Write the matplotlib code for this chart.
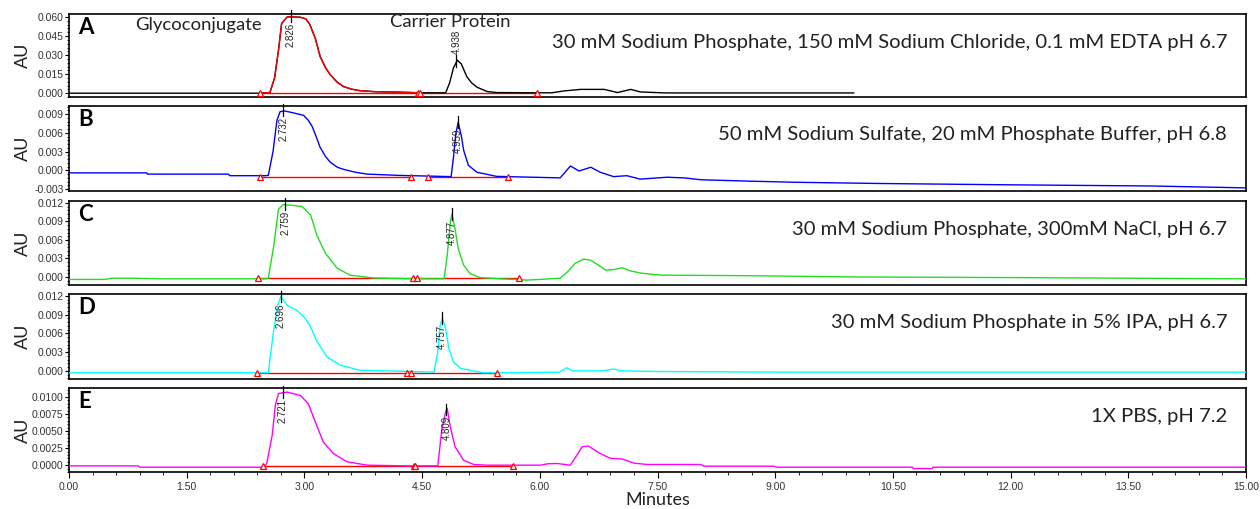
"""
Stacked SEC chromatograms (panels A-E) for different mobile phases.
"""

import matplotlib
matplotlib.use("Agg")
import matplotlib.pyplot as plt
import numpy as np
from matplotlib.ticker import AutoMinorLocator, FormatStrFormatter

# ---- data ----
letters = ["A", "B", "C", "D", "E"]
conditions = [
    "30 mM Sodium Phosphate, 150 mM Sodium Chloride, 0.1 mM EDTA pH 6.7",
    "50 mM Sodium Sulfate, 20 mM Phosphate Buffer, pH 6.8",
    "30 mM Sodium Phosphate, 300mM NaCl, pH 6.7",
    "30 mM Sodium Phosphate in 5% IPA, pH 6.7",
    "1X PBS, pH 7.2",
]
trace_colors = ["black", "blue", "#22dd22", "cyan", "magenta"]

time_a = [0, 2.44, 2.56, 2.62, 2.67, 2.71, 2.78, 2.83, 2.95, 3.02, 3.07, 3.14, 3.20, 3.27,
          3.33, 3.42, 3.50, 3.60, 3.71, 3.90, 4.22, 4.47, 4.80, 4.85, 4.90, 4.95, 5.00, 5.07,
          5.13, 5.20, 5.33, 5.45, 6.0, 6.15, 6.31, 6.52, 6.82, 6.99, 7.16, 7.28, 7.6, 10.0]
au_a = [0.0, 0.0, 0.0005, 0.012, 0.034, 0.055, 0.060, 0.0602, 0.0598, 0.0585, 0.054, 0.043,
        0.029, 0.020, 0.0145, 0.0085, 0.0052, 0.0032, 0.002, 0.0012, 0.0008, 0.0003, 0.0003,
        0.008, 0.020, 0.026, 0.023, 0.013, 0.0082, 0.0047, 0.0013, 0.0005, 0.0003, 0.0003,
        0.0018, 0.003, 0.003, 0.0005, 0.003, 0.001, 0.0002, 0.0002]

time_b = [0, 0.99, 1.0, 2.03, 2.05, 2.50, 2.54, 2.60, 2.65, 2.69, 2.75, 2.86, 2.99, 3.05, 3.10,
          3.15, 3.20, 3.27, 3.33, 3.42, 3.50, 3.65, 3.80, 4.2, 4.87, 4.90, 4.93, 4.96, 5.00,
          5.03, 5.09, 5.20, 5.45, 6.26, 6.39, 6.50, 6.65, 6.77, 6.94, 7.11, 7.28, 7.62, 7.84,
          8.05, 8.60, 9.24, 10.34, 11.9, 13.8, 15.0]
au_b = [-0.0004, -0.0004, -0.0006, -0.0006, -0.00085, -0.00085, -0.0008, 0.003, 0.0080,
        0.0094, 0.0095, 0.0092, 0.0088, 0.0080, 0.0070, 0.0054, 0.0037, 0.0022, 0.0013,
        0.0005, 0.00016, -0.0003, -0.0006, -0.0008, -0.0010, 0.0021, 0.0059, 0.0077, 0.0055,
        0.0032, 0.0008, -0.0003, -0.00096, -0.0012, 0.0007, -0.0001, 0.0005, -0.0003, -0.001,
        -0.00085, -0.0014, -0.0011, -0.0012, -0.0015, -0.0017, -0.0019, -0.0021, -0.0023,
        -0.0025, -0.0028]

time_c = [0, 0.45, 0.55, 0.8, 1.2, 2.50, 2.54, 2.61, 2.67, 2.73, 2.85, 2.97, 3.02, 3.08, 3.16,
          3.27, 3.42, 3.58, 3.88, 4.4, 4.78, 4.82, 4.86, 4.88, 4.92, 4.96, 5.03, 5.11, 5.24,
          5.50, 5.84, 6.0, 6.26, 6.35, 6.45, 6.56, 6.65, 6.75, 6.84, 6.95, 7.05, 7.15, 7.3,
          7.54, 8.7, 10.0, 12.0, 15.0]
au_c = [-0.0004, -0.0004, -0.0002, -0.0002, -0.0003, -0.0003, -0.0002, 0.0051, 0.011, 0.0117,
        0.0116, 0.0114, 0.0108, 0.0100, 0.0067, 0.0038, 0.0014, 0.0003, -0.00016, -0.0003,
        -0.0003, 0.0035, 0.0089, 0.0102, 0.0078, 0.0046, 0.0019, 0.00055, -0.0001, -0.0003,
        -0.0005, -0.0004, -0.0002, 0.0008, 0.0022, 0.0029, 0.0027, 0.0019, 0.0011, 0.0012,
        0.0015, 0.0010, 0.0006, 0.0003, 0.0002, 0.0, -0.0001, -0.0003]

time_d = [0, 2.50, 2.54, 2.60, 2.66, 2.70, 2.78, 2.90, 2.99, 3.07, 3.16, 3.29, 3.46, 3.71,
          4.22, 4.65, 4.70, 4.73, 4.76, 4.80, 4.84, 4.90, 4.99, 5.28, 5.6, 6.25, 6.34, 6.42,
          6.8, 6.94, 7.05, 7.5, 9.0, 15.0]
au_d = [-0.0003, -0.0003, -0.0003, 0.0057, 0.0105, 0.0119, 0.0105, 0.0097, 0.0087, 0.0073,
        0.0047, 0.0022, 0.0009, 0.0001, -0.00005, -0.0002, 0.003, 0.0073, 0.0084, 0.0068,
        0.0036, 0.0014, 0.0004, -0.0003, -0.0003, -0.0002, 0.0005, 0.0, 0.0, 0.0003, 0.0,
        -0.0001, -0.0002, -0.0002]

time_e = [0, 0.88, 0.9, 2.48, 2.52, 2.59, 2.63, 2.67, 2.78, 2.95, 3.05, 3.14, 3.24, 3.37,
          3.54, 3.80, 4.3, 4.70, 4.75, 4.80, 4.82, 4.86, 4.92, 5.03, 5.16, 5.33, 6.01, 6.1,
          6.22, 6.32, 6.39, 6.43, 6.54, 6.62, 6.77, 6.90, 7.05, 7.20, 7.37, 8.05, 8.09, 8.98,
          9.03, 10.75, 10.76, 11.0, 11.01, 15.0]
au_e = [-0.0001, -0.0001, -0.0003, -0.0003, 0.00025, 0.0044, 0.0088, 0.0105, 0.0107, 0.0102,
        0.0090, 0.0063, 0.0034, 0.0017, 0.0005, 0.0, -0.0001, -0.0001, 0.0051, 0.0078,
        0.0083, 0.0056, 0.0027, 0.0007, 0.0001, 0.0, 0.0, 0.0002, 0.00025, 0.0001, 0.0,
        0.0007, 0.0027, 0.0028, 0.0017, 0.0010, 0.0009, 0.0003, 0.0001, 0.0001, -0.00015,
        -0.00015, -0.0003, -0.0003, -0.0005, -0.0005, -0.0003, -0.0003]

times = [time_a, time_b, time_c, time_d, time_e]
signals = [au_a, au_b, au_c, au_d, au_e]

# retention times printed on the peaks
peak_labels = [["2.826", "4.938"], ["2.732", "4.959"], ["2.759", "4.877"],
               ["2.696", "4.757"], ["2.721", "4.809"]]

# integration baselines (start, end) and their level
baseline_segments = [
    [(2.44, 4.45), (4.47, 5.97)],
    [(2.44, 4.36), (4.58, 5.60)],
    [(2.41, 4.38), (4.43, 5.73)],
    [(2.40, 4.31), (4.36, 5.46)],
    [(2.47, 4.40), (4.41, 5.66)],
]
baseline_level = [0.0, -0.0010, -0.0001, -0.00035, -0.0001]

y_ticks = [
    [0.0, 0.015, 0.030, 0.045, 0.060],
    [-0.003, 0.0, 0.003, 0.006, 0.009],
    [0.0, 0.003, 0.006, 0.009, 0.012],
    [0.0, 0.003, 0.006, 0.009, 0.012],
    [0.0, 0.0025, 0.005, 0.0075, 0.010],
]
y_limits = [(-0.0030, 0.0624), (-0.0033, 0.0103), (-0.0013, 0.0123),
            (-0.0013, 0.0123), (-0.0010, 0.0113)]
x_ticks = [0, 1.5, 3.0, 4.5, 6.0, 7.5, 9.0, 10.5, 12.0, 13.5, 15.0]

# panel boxes in pixels (top, bottom) on a 1260x509 canvas
panel_px = [(14, 97), (106, 191), (201, 285), (294, 379), (388, 472)]

W, H = 1260, 509
fig = plt.figure(figsize=(W / 100, H / 100), dpi=100)
label_font = ["Lato", "DejaVu Sans"]

for i, (top, bot) in enumerate(panel_px):
    ax = fig.add_axes([69 / W, 1 - bot / H, (1246 - 69) / W, (bot - top) / H])
    t = np.array(times[i])
    v = np.array(signals[i])

    ax.plot(t, v, color=trace_colors[i], lw=1.0, zorder=3)
    if i == 0:
        # first peak of panel A is drawn in red
        m = (t >= 2.44) & (t <= 4.47)
        ax.plot(t[m], v[m], color="red", lw=1.0, zorder=4)

    for s, e in baseline_segments[i]:
        ax.plot([s, e], [baseline_level[i]] * 2, color="red", lw=1.0, zorder=2)
        ax.plot([s, e], [baseline_level[i]] * 2, ls="none", marker="^", ms=5,
                mfc="white", mec="red", mew=0.9, zorder=5)

    span = y_limits[i][1] - y_limits[i][0]
    for j, lab in enumerate(peak_labels[i]):
        rt = float(lab)
        apex = np.interp(rt, t, v)
        ax.plot([rt, rt], [apex - 0.06 * span, apex + 0.08 * span], color="black",
                lw=0.9, zorder=6, clip_on=False)
        if i == 0 and j == 1:
            ax.text(rt, apex + 0.1 * span, lab, rotation=90, ha="center", va="bottom",
                    fontsize=7, family="Liberation Sans", color="#222222", zorder=7)
        else:
            ax.text(rt, apex - 0.07 * span, lab, rotation=90, ha="center", va="top",
                    fontsize=7, family="Liberation Sans", color="#222222", zorder=7)

    ax.set_xlim(0, 15)
    ax.set_ylim(*y_limits[i])
    ax.set_yticks(y_ticks[i])
    ax.yaxis.set_major_formatter(FormatStrFormatter("%.4f" if i == 4 else "%.3f"))
    ax.yaxis.set_minor_locator(AutoMinorLocator(5))
    ax.tick_params(axis="y", which="major", labelsize=7.5, length=3, width=0.8,
                   labelcolor="#333333", pad=1)
    ax.tick_params(axis="y", which="minor", length=1.5, width=0.6)
    for lbl in ax.get_yticklabels():
        lbl.set_family("Liberation Sans")

    ax.set_xticks(x_ticks)
    if i == 4:
        ax.xaxis.set_major_formatter(FormatStrFormatter("%.2f"))
        ax.xaxis.set_minor_locator(AutoMinorLocator(5))
        ax.tick_params(axis="x", which="major", labelsize=7.5, length=4, width=0.8,
                       labelcolor="#333333")
        ax.tick_params(axis="x", which="minor", length=2, width=0.6)
        for lbl in ax.get_xticklabels():
            lbl.set_family("Liberation Sans")
        ax.set_xlabel("Minutes", fontsize=13, family=label_font, labelpad=0, color="#222222")
    else:
        ax.tick_params(axis="x", which="both", bottom=False, labelbottom=False)

    for sp in ax.spines.values():
        sp.set_linewidth(1.2)

    ax.set_ylabel("AU", fontsize=13, family=label_font, color="#222222")
    ax.yaxis.set_label_coords(-0.032, 0.5)

    ax.text(0.008, 0.84, letters[i], transform=ax.transAxes, fontsize=16,
            fontweight="bold", family=label_font, va="center", ha="left")
    ax.text(0.984, 0.66, conditions[i], transform=ax.transAxes, fontsize=14.6,
            family=label_font, va="center", ha="right", color="#222222")

    if i == 0:
        ax.text(0.056, 0.87, "Glycoconjugate", transform=ax.transAxes, fontsize=13.3,
                family=label_font, va="center", ha="left", color="#222222")
        ax.text(0.273, 0.9, "Carrier Protein", transform=ax.transAxes, fontsize=13.3,
                family=label_font, va="center", ha="left", color="#222222")

fig.savefig("out.png", dpi=100)
